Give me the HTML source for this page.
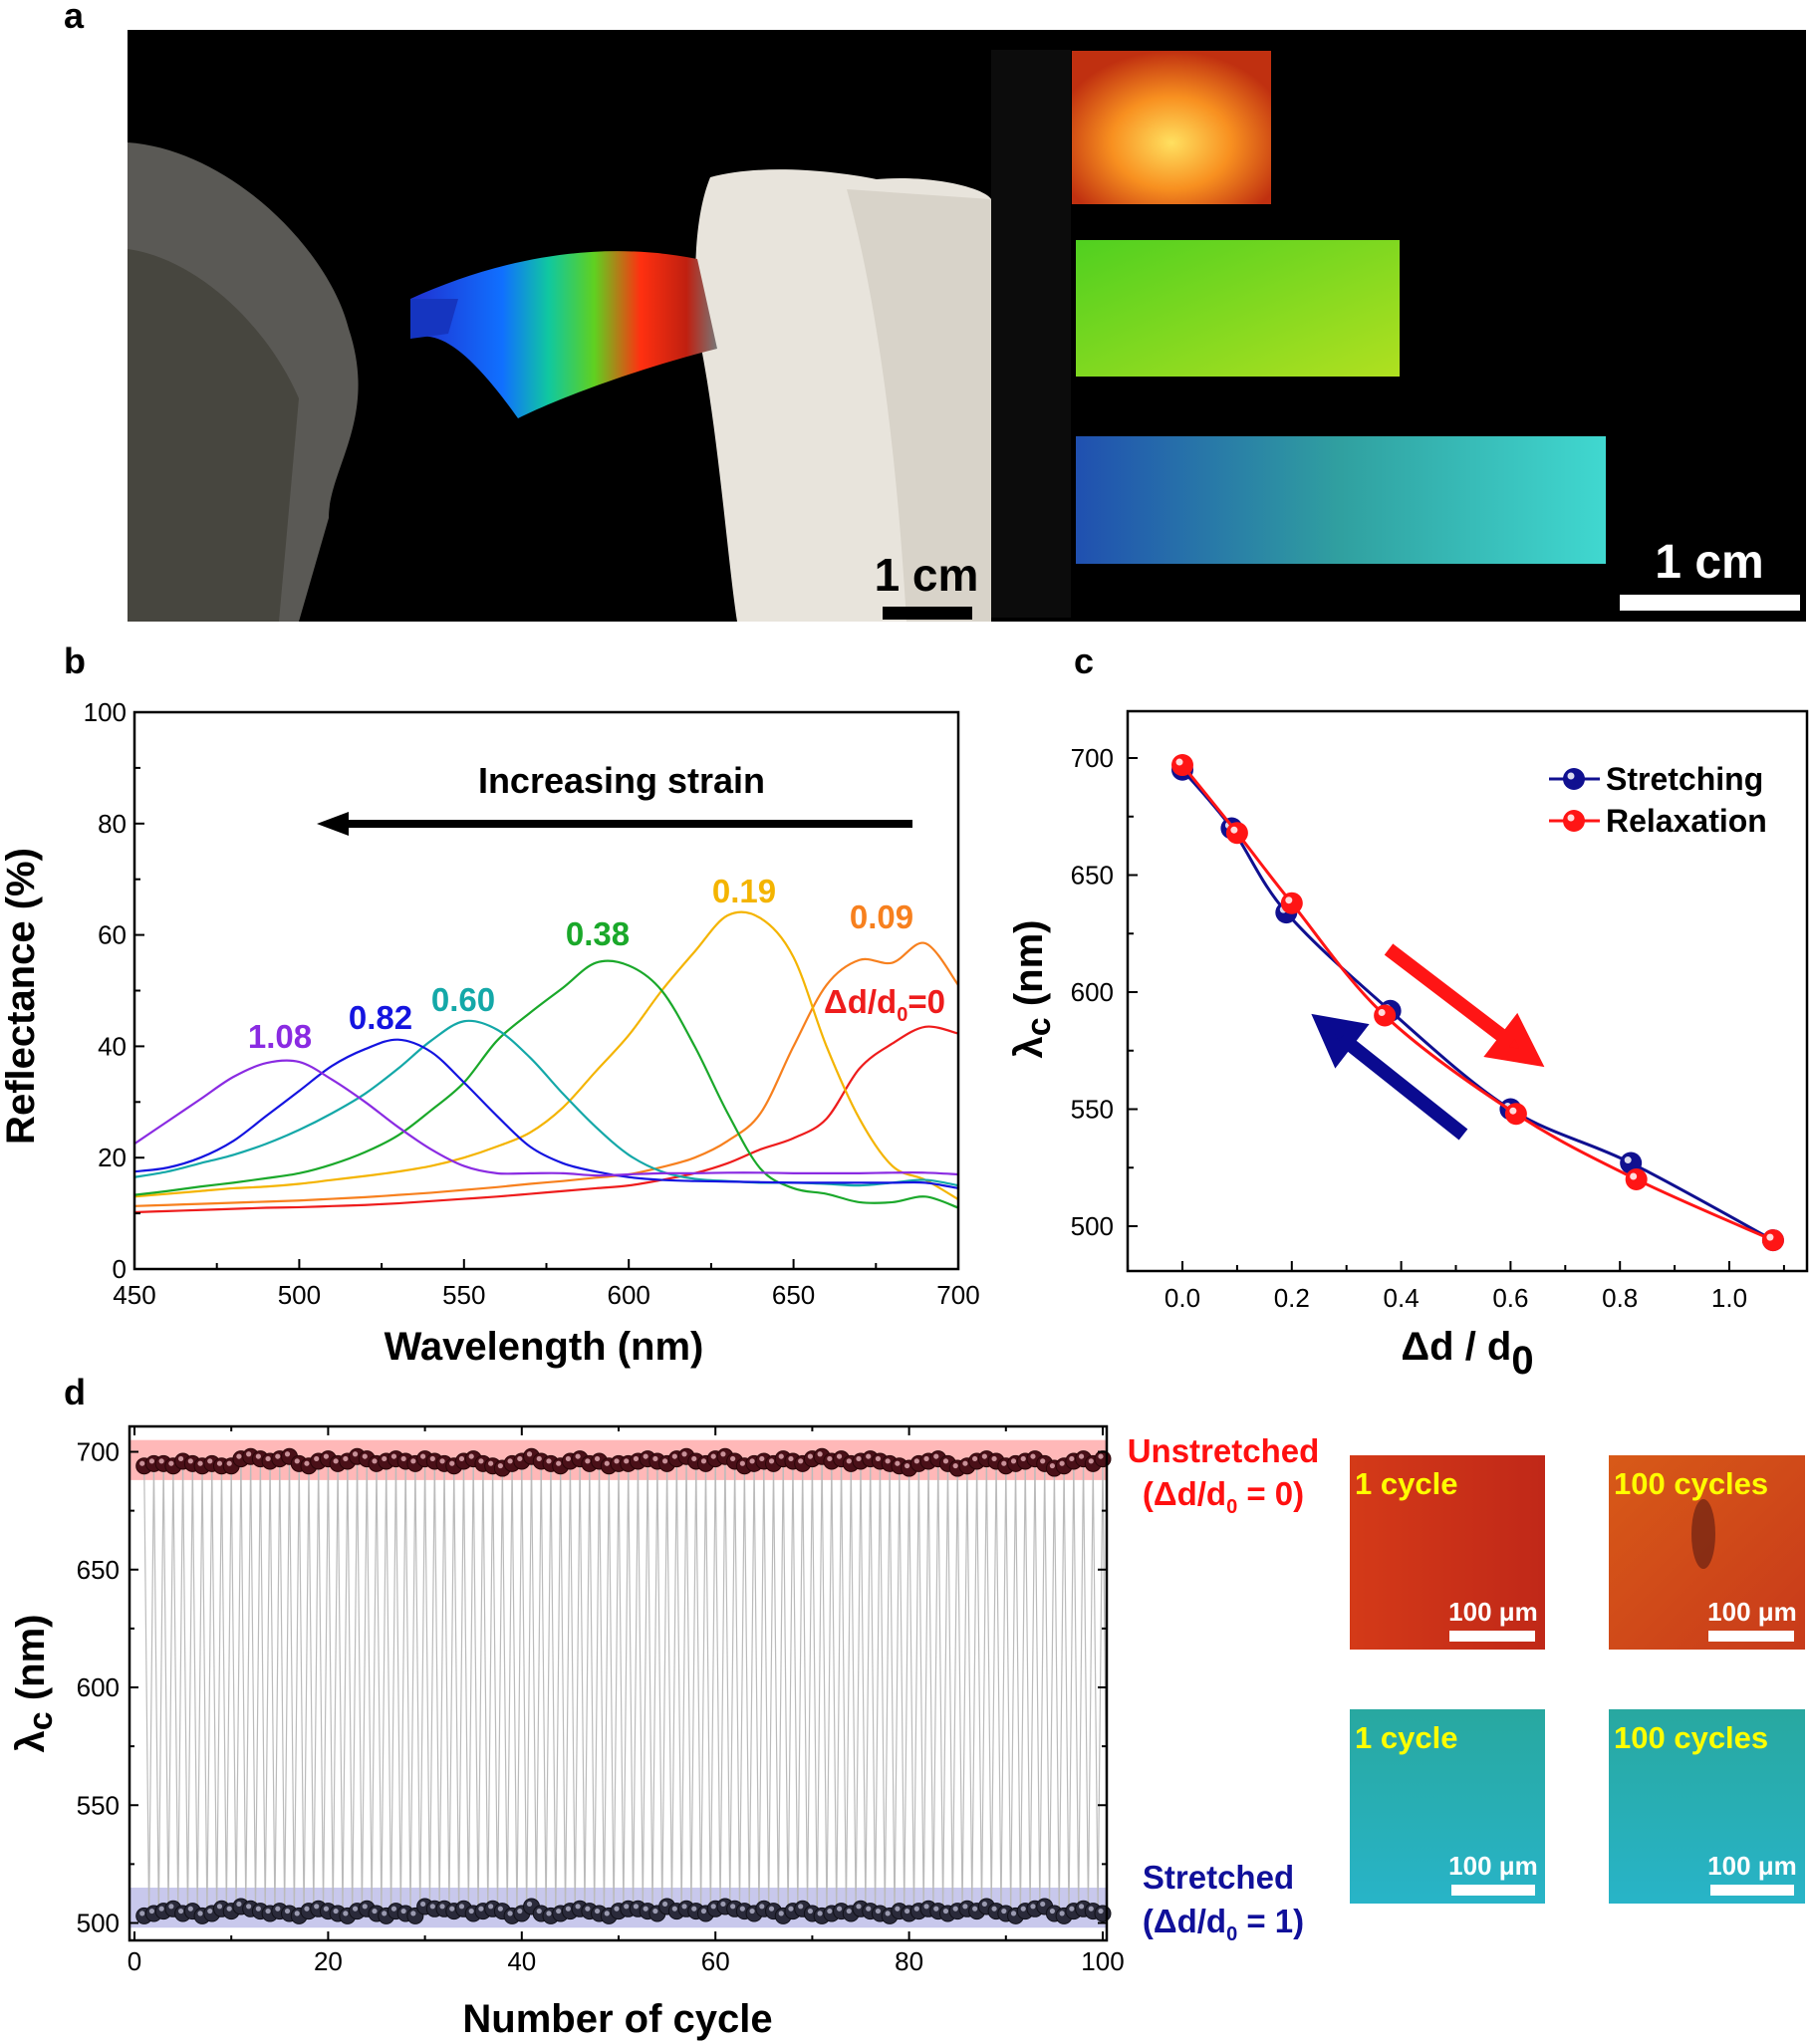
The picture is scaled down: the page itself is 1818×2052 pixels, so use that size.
<!DOCTYPE html>
<html><head><meta charset="utf-8"><style>
html,body{margin:0;padding:0;background:#fff;}
svg{display:block;font-family:"Liberation Sans",sans-serif;}
</style></head><body>
<svg id="fig" width="1818" height="2052" viewBox="0 0 1818 2052" xmlns="http://www.w3.org/2000/svg">
<defs>
<linearGradient id="rainbow" x1="0" y1="0" x2="1" y2="0">
<stop offset="0" stop-color="#2030d0"/><stop offset="0.3" stop-color="#1070ff"/><stop offset="0.45" stop-color="#10c8a0"/><stop offset="0.6" stop-color="#60d020"/><stop offset="0.75" stop-color="#ff3010"/><stop offset="0.9" stop-color="#c02010"/><stop offset="1" stop-color="#777"/></linearGradient>
<radialGradient id="orangeG" cx="0.5" cy="0.6" r="0.6"><stop offset="0" stop-color="#ffe060"/><stop offset="0.5" stop-color="#f89020"/><stop offset="1" stop-color="#c03010"/></radialGradient>
<linearGradient id="greenG" x1="0" y1="0" x2="1" y2="1"><stop offset="0" stop-color="#50d020"/><stop offset="1" stop-color="#b0e020"/></linearGradient>
<linearGradient id="cyanG" x1="0" y1="0" x2="1" y2="0"><stop offset="0" stop-color="#2050b0"/><stop offset="0.5" stop-color="#30a0a0"/><stop offset="1" stop-color="#40d8d0"/></linearGradient>
<linearGradient id="redImg" x1="0" y1="0" x2="1" y2="0"><stop offset="0" stop-color="#d43a18"/><stop offset="1" stop-color="#c02818"/></linearGradient>
<linearGradient id="redImg2" x1="0" y1="0" x2="1" y2="1"><stop offset="0" stop-color="#d85a18"/><stop offset="1" stop-color="#c83a1a"/></linearGradient>
<linearGradient id="cyImg" x1="0" y1="0" x2="0" y2="1"><stop offset="0" stop-color="#28a8a0"/><stop offset="1" stop-color="#28b4c8"/></linearGradient>
</defs>

<text x="64" y="28" font-size="36" font-weight="bold">a</text>
<g>
<rect x="128" y="30" width="867" height="594" fill="#000"/>
<path d="M128 143 C230 150 330 250 350 330 C380 420 330 470 330 520 L300 624 L128 624 Z" fill="#5a5955"/>
<path d="M128 250 C200 260 270 330 300 400 L280 624 L128 624Z" fill="#47463f"/>
<path d="M713 178 C760 165 830 170 880 180 C940 175 990 190 995 200 L995 624 L740 624 C730 560 720 420 700 330 C695 260 700 210 713 178Z" fill="#e8e4dc"/>
<path d="M850 190 C880 300 900 450 910 624 L995 624 L995 200Z" fill="#d8d3c9"/>
<path d="M412 300 C500 260 600 240 700 260 L720 350 C640 370 560 400 520 420 C470 350 440 330 412 340Z" fill="url(#rainbow)"/>
<path d="M412 300 L460 300 L450 335 L412 340Z" fill="#1535c0"/>
<rect x="886" y="609" width="90" height="13" fill="#000"/>
<text x="930" y="593" font-size="46" font-weight="bold" text-anchor="middle" fill="#000">1 cm</text>
</g>
<g>
<rect x="995" y="30" width="818" height="594" fill="#000"/>
<rect x="995" y="50" width="80" height="570" fill="#0c0c0c"/>
<rect x="1076" y="51" width="200" height="154" fill="url(#orangeG)"/>
<rect x="1080" y="241" width="325" height="137" fill="url(#greenG)"/>
<rect x="1080" y="438" width="532" height="128" fill="url(#cyanG)"/>
<rect x="1626" y="597" width="181" height="16" fill="#fff"/>
<text x="1716" y="580" font-size="48" font-weight="bold" text-anchor="middle" fill="#fff">1 cm</text>
</g>

<text x="64" y="676" font-size="36" font-weight="bold">b</text>
<text x="1078" y="676" font-size="36" font-weight="bold">c</text>
<text x="64" y="1410" font-size="36" font-weight="bold">d</text>

<g id="pb"></g>
<g id="pc"></g>
<g id="pd"></g>

<g>
<rect x="1355" y="1461" width="196" height="195" fill="url(#redImg)"/>
<rect x="1615" y="1461" width="197" height="195" fill="url(#redImg2)"/>
<ellipse cx="1710" cy="1540" rx="12" ry="35" fill="#5a1a10" opacity="0.6"/>
<rect x="1355" y="1716" width="196" height="195" fill="url(#cyImg)"/>
<rect x="1615" y="1716" width="197" height="195" fill="url(#cyImg)"/>
<g font-weight="bold" font-size="31" fill="#ffff00">
<text x="1360" y="1500">1 cycle</text><text x="1620" y="1500">100 cycles</text>
<text x="1360" y="1755">1 cycle</text><text x="1620" y="1755">100 cycles</text>
</g>
<g font-weight="bold" font-size="26" fill="#fff" text-anchor="middle">
<text x="1499" y="1627">100 μm</text><text x="1759" y="1627">100 μm</text>
<text x="1499" y="1882">100 μm</text><text x="1759" y="1882">100 μm</text>
</g>
<g fill="#fff">
<rect x="1455" y="1637" width="86" height="11"/><rect x="1715" y="1637" width="86" height="11"/>
<rect x="1457" y="1892" width="84" height="11"/><rect x="1717" y="1892" width="84" height="11"/>
</g>
</g>
<g font-weight="bold" font-size="33" text-anchor="middle">
<text x="1228" y="1468" fill="#ff1010">Unstretched</text>
<text x="1228" y="1511" fill="#ff1010">(Δd/d<tspan font-size="20" dy="8">0</tspan><tspan dy="-8"> = 0)</tspan></text>
<text x="1223" y="1896" fill="#10109a">Stretched</text>
<text x="1228" y="1940" fill="#10109a">(Δd/d<tspan font-size="20" dy="8">0</tspan><tspan dy="-8"> = 1)</tspan></text>
</g>
</svg>
<script>
// ---------- Panel b data ----------
const wavelengths = [450,460,470,480,490,500,510,520,530,540,550,560,570,580,590,600,610,620,630,640,650,660,670,680,690,700];
const refl0    = [10.2,10.4,10.6,10.8,11,11.1,11.3,11.5,11.8,12.2,12.6,13,13.5,14,14.5,15,16,17.2,19,21.5,23.5,27,36,40.5,43.5,42.3];
const refl009  = [11.3,11.5,11.7,11.9,12.1,12.3,12.6,12.9,13.3,13.7,14.2,14.7,15.3,15.8,16.4,17,18.3,20,23,28,40,51,55.5,55,58.5,51];
const refl019  = [13,13.5,14,14.5,14.8,15.3,16,16.7,17.5,18.5,20,22,24.5,29,35.5,42,50,57,63.5,63,56,40,27,18.5,16,12.5];
const refl038  = [13.3,14,14.8,15.5,16.3,17.2,18.8,21,24,28.5,33.5,41,46,50.5,55,54.5,50,40,28,18,14.5,13.5,12,12,13,11];
const refl060  = [16.5,17.5,19,20.5,22.5,25,28,31.5,36,41,44.5,43,38,31.5,25.5,20.5,17.5,16.2,15.8,15.5,15.5,15.3,15,15.5,16,15];
const refl082  = [17.5,18.2,20,23,27.5,32,36.5,39.5,41.2,39,33.5,27.5,22,19,17.5,16.5,16,15.8,15.7,15.6,15.5,15.5,15.5,15.5,15.5,14.5];
const refl108  = [22.5,26.5,30.5,34.5,37,37.2,34,30,25.5,21.5,18.5,17.2,17.2,17.2,16.8,17,17.2,17.2,17.3,17.3,17.2,17.2,17.2,17.3,17.3,17];
const bYTicks = [0,20,40,60,80,100];
const bXTicks = [450,500,550,600,650,700];
// ---------- Panel c data ----------
const strainStretch = [0,0.09,0.19,0.38,0.60,0.82,1.08];
const lambdaStretch = [695,670,634,592,550,527,494];
const strainRelax = [0,0.10,0.20,0.37,0.61,0.83,1.08];
const lambdaRelax = [697,668,638,590,548,520,494];
const cYTicks = [500,550,600,650,700];
const cXTicks = ["0.0","0.2","0.4","0.6","0.8","1.0"];
// ---------- Panel d data ----------
const cycleTop = [694,695,695,694,696,695,694,695,694,694,697,698,697,696,697,698,695,694,696,697,695,696,698,697,695,696,697,696,695,697,696,695,694,696,697,695,694,693,695,696,698,696,695,694,696,697,695,696,694,695,695,696,697,696,695,697,698,696,695,697,698,696,694,695,696,695,697,696,695,697,698,696,697,695,696,697,696,695,694,693,695,696,697,695,693,694,696,697,696,694,695,696,697,695,693,694,696,697,695,697];
const cycleBottom = [503,504,505,506,504,505,503,504,506,505,507,506,505,504,505,504,503,505,506,505,504,503,505,506,504,503,505,504,503,507,506,506,505,506,504,505,506,505,503,504,507,504,503,504,505,506,505,504,503,505,506,506,505,504,507,505,506,505,504,506,507,506,505,504,506,505,503,505,506,504,503,504,505,504,506,505,504,503,505,504,505,506,505,504,505,506,505,507,505,504,503,505,506,507,504,503,505,506,505,504];
const dYTicks = [500,550,600,650,700];
const dXTicks = [0,20,40,60,80,100];

const NS = "http://www.w3.org/2000/svg";
function mk(parent, tag, attrs){ const e=document.createElementNS(NS,tag); for(const k in attrs) e.setAttribute(k,attrs[k]); parent.appendChild(e); return e; }
function txt(parent, x, y, s, attrs){ const e=mk(parent,'text',Object.assign({x:x,y:y},attrs||{})); e.textContent=s; return e; }
function smooth(pts){ let d='M'+pts[0][0]+' '+pts[0][1]; for(let i=0;i<pts.length-1;i++){const p0=pts[Math.max(0,i-1)],p1=pts[i],p2=pts[i+1],p3=pts[Math.min(pts.length-1,i+2)]; const c1=[p1[0]+(p2[0]-p0[0])/6,p1[1]+(p2[1]-p0[1])/6], c2=[p2[0]-(p3[0]-p1[0])/6,p2[1]-(p3[1]-p1[1])/6]; d+=' C'+c1[0]+' '+c1[1]+' '+c2[0]+' '+c2[1]+' '+p2[0]+' '+p2[1];} return d; }

// ===== Panel b =====
(function(){
const g=document.getElementById('pb');
const L=135,R=962,T=715,B=1274;
const xb=v=>L+(v-450)/250*(R-L), yb=v=>B-v/100*(B-T);
const series=[[refl0,'#ee1c1c','curve-0'],[refl009,'#f7801e','curve-009'],[refl019,'#f4b400','curve-019'],[refl038,'#1aa82a','curve-038'],[refl060,'#14a8a8','curve-060'],[refl082,'#1414e0','curve-082'],[refl108,'#8a2be2','curve-108']];
series.forEach(s=>{const p=mk(g,'path',{d:smooth(wavelengths.map((w,i)=>[xb(w),yb(s[0][i])])),fill:'none',stroke:s[1],'stroke-width':2.2});

});
const fr=mk(g,'rect',{x:L,y:T,width:R-L,height:B-T,fill:'none',stroke:'#000','stroke-width':2.5});


for(let v=0;v<=100;v+=10){const y=yb(v); mk(g,'line',{x1:L,x2:L+(v%20?6:10),y1:y,y2:y,stroke:'#000','stroke-width':2});}
for(let v=450;v<=700;v+=25){const x=xb(v); mk(g,'line',{x1:x,x2:x,y1:B,y2:B-(v%50?6:10),stroke:'#000','stroke-width':2});}
bYTicks.forEach(v=>{const t=txt(g,L-8,yb(v)+9,String(v),{'font-size':26,'text-anchor':'end'});

});
bXTicks.forEach(v=>{const t=txt(g,xb(v),B+35,String(v),{'font-size':26,'text-anchor':'middle'});

});
const xt=txt(g,546,1365,'Wavelength (nm)',{'font-size':40,'font-weight':'bold','text-anchor':'middle'});


const yt=txt(g,0,0,'Reflectance (%)',{'font-size':40,'font-weight':'bold','text-anchor':'middle',transform:'translate(34,1000) rotate(-90)'});


const st=txt(g,624,796,'Increasing strain',{'font-size':36,'font-weight':'bold','text-anchor':'middle'});


const ar=mk(g,'path',{d:'M916 823 L350 823 L350 815 L318 827 L350 839 L350 831 L916 831 Z',fill:'#000'});


const labs=[['1.08',281,1052,'#8a2be2'],['0.82',382,1033,'#1414e0'],['0.60',465,1015,'#14a8a8'],['0.38',600,949,'#1aa82a'],['0.19',747,906,'#f4b400'],['0.09',885,932,'#f7801e']];
labs.forEach(l=>{const t=txt(g,l[1],l[2],l[0],{'font-size':33,'font-weight':'bold','text-anchor':'middle',fill:l[3]});

});
const z=txt(g,888,1017,'',{'font-size':33,'font-weight':'bold','text-anchor':'middle',fill:'#ee1c1c'});
z.innerHTML='Δd/d<tspan font-size="20" dy="8">0</tspan><tspan dy="-8">=0</tspan>';


})();

// ===== Panel c =====
(function(){
const g=document.getElementById('pc');
const L=1132,R=1814,T=714,B=1276;
const xc=v=>1187+v*549, yc=v=>761+(700-v)*2.35;
const fr=mk(g,'rect',{x:L,y:T,width:R-L,height:B-T,fill:'none',stroke:'#000','stroke-width':2.5});


for(let v=500;v<=700;v+=25){const y=yc(v); mk(g,'line',{x1:L,x2:L+(v%50?6:10),y1:y,y2:y,stroke:'#000','stroke-width':2});}
for(let i=-1;i<=11;i++){const x=xc(i/10); mk(g,'line',{x1:x,x2:x,y1:B,y2:B-(i%2?6:10),stroke:'#000','stroke-width':2});}
cYTicks.forEach(v=>{const t=txt(g,L-14,yc(v)+9,String(v),{'font-size':26,'text-anchor':'end'});

});
cXTicks.forEach(s=>{const t=txt(g,xc(parseFloat(s)),B+36,s,{'font-size':26,'text-anchor':'middle'});

});
const sets=[[strainStretch,lambdaStretch,'#101090','#5050c0','stretching'],[strainRelax,lambdaRelax,'#ff1515','#ff7070','relaxation']];
sets.forEach(s=>{const p=mk(g,'path',{d:smooth(s[0].map((x,i)=>[xc(x),yc(s[1][i])])),fill:'none',stroke:s[2],'stroke-width':3});


s[0].forEach((x,i)=>{const c=mk(g,'circle',{cx:xc(x),cy:yc(s[1][i]),r:11,fill:s[2]});


mk(g,'circle',{cx:xc(x)-3,cy:yc(s[1][i])-3,r:3.5,fill:'#fff',opacity:0.85});});});
[['Stretching',782,'#101090'],['Relaxation',824,'#ff1515']].forEach(l=>{
const le=mk(g,'g',{});


mk(le,'line',{x1:1555,x2:1606,y1:l[1],y2:l[1],stroke:l[2],'stroke-width':3});
mk(le,'circle',{cx:1580,cy:l[1],r:11,fill:l[2]});
mk(le,'circle',{cx:1577,cy:l[1]-3,r:3.5,fill:'#fff',opacity:0.85});
txt(le,1612,l[1]+11,l[0],{'font-size':32,'font-weight':'bold'});});
const ra=mk(g,'path',{d:'M1394 953 L1512 1043 L1502 1056 L1538 1062 L1522 1030 L1512 1043',fill:'#ff1515',stroke:'#ff1515','stroke-width':14,'stroke-linejoin':'miter'});


const ba=mk(g,'path',{d:'M1469 1139 L1352 1046 L1342 1059 L1328 1027 L1362 1033 L1352 1046',fill:'#0a0a90',stroke:'#0a0a90','stroke-width':14});


const xt=txt(g,1473,1365,'',{'font-size':40,'font-weight':'bold','text-anchor':'middle'});
xt.innerHTML='Δd / d<tspan font-size="40" dy="14">0</tspan>';


const yt=txt(g,0,0,'',{'font-size':40,'font-weight':'bold','text-anchor':'middle',transform:'translate(1046,993) rotate(-90)'});
yt.innerHTML='λ<tspan font-size="34" dy="8">c</tspan><tspan dy="-8"> (nm)</tspan>';


})();

// ===== Panel d =====
(function(){
const g=document.getElementById('pd');
const L=130,R=1111,T=1432,B=1948;
const xd=v=>135+v*9.72, yd=v=>1457.5+(700-v)*2.365;
const b1=mk(g,'rect',{x:L,y:yd(705),width:R-L,height:yd(688)-yd(705),fill:'#ffb8b8'});


const b2=mk(g,'rect',{x:L,y:yd(515),width:R-L,height:yd(498)-yd(515),fill:'#c8c8ec'});


let d='';
cycleTop.forEach((v,i)=>{const c=i+1; d+=(i?' L':'M')+xd(c)+' '+yd(v)+' L'+xd(c+0.5)+' '+yd(cycleBottom[i]);});
const zz=mk(g,'path',{d:d,fill:'none',stroke:'#bbbbbb','stroke-width':1.2});


cycleTop.forEach((v,i)=>{const c=mk(g,'circle',{cx:xd(i+1),cy:yd(v),r:8,fill:'#4a1018',stroke:'#2a0508','stroke-width':1});


mk(g,'circle',{cx:xd(i+1)-2,cy:yd(v)-2.5,r:2.6,fill:'#c89098'});});
cycleBottom.forEach((v,i)=>{const c=mk(g,'circle',{cx:xd(i+1),cy:yd(v),r:8,fill:'#2a2a3a',stroke:'#101018','stroke-width':1});


mk(g,'circle',{cx:xd(i+1)-2,cy:yd(v)-2.5,r:2.6,fill:'#9a9ab0'});});
const fr=mk(g,'rect',{x:L,y:T,width:R-L,height:B-T,fill:'none',stroke:'#000','stroke-width':2.5});


for(let v=500;v<=700;v+=25){const y=yd(v); const len=v%50?5:9; mk(g,'line',{x1:L,x2:L+len,y1:y,y2:y,stroke:'#000','stroke-width':2}); mk(g,'line',{x1:R,x2:R-len,y1:y,y2:y,stroke:'#000','stroke-width':2});}
for(let v=0;v<=100;v+=10){const x=xd(v); const len=v%20?5:9; mk(g,'line',{x1:x,x2:x,y1:B,y2:B-len,stroke:'#000','stroke-width':2}); mk(g,'line',{x1:x,x2:x,y1:T,y2:T+len,stroke:'#000','stroke-width':2});}
dYTicks.forEach(v=>{const t=txt(g,L-10,yd(v)+9,String(v),{'font-size':26,'text-anchor':'end'});

});
dXTicks.forEach(v=>{const t=txt(g,xd(v),B+30,String(v),{'font-size':26,'text-anchor':'middle'});

});
const xt=txt(g,620,2040,'Number of cycle',{'font-size':40,'font-weight':'bold','text-anchor':'middle'});


const yt=txt(g,0,0,'',{'font-size':40,'font-weight':'bold','text-anchor':'middle',transform:'translate(44,1690) rotate(-90)'});
yt.innerHTML='λ<tspan font-size="34" dy="8">c</tspan><tspan dy="-8"> (nm)</tspan>';


})();
</script>
</body></html>
